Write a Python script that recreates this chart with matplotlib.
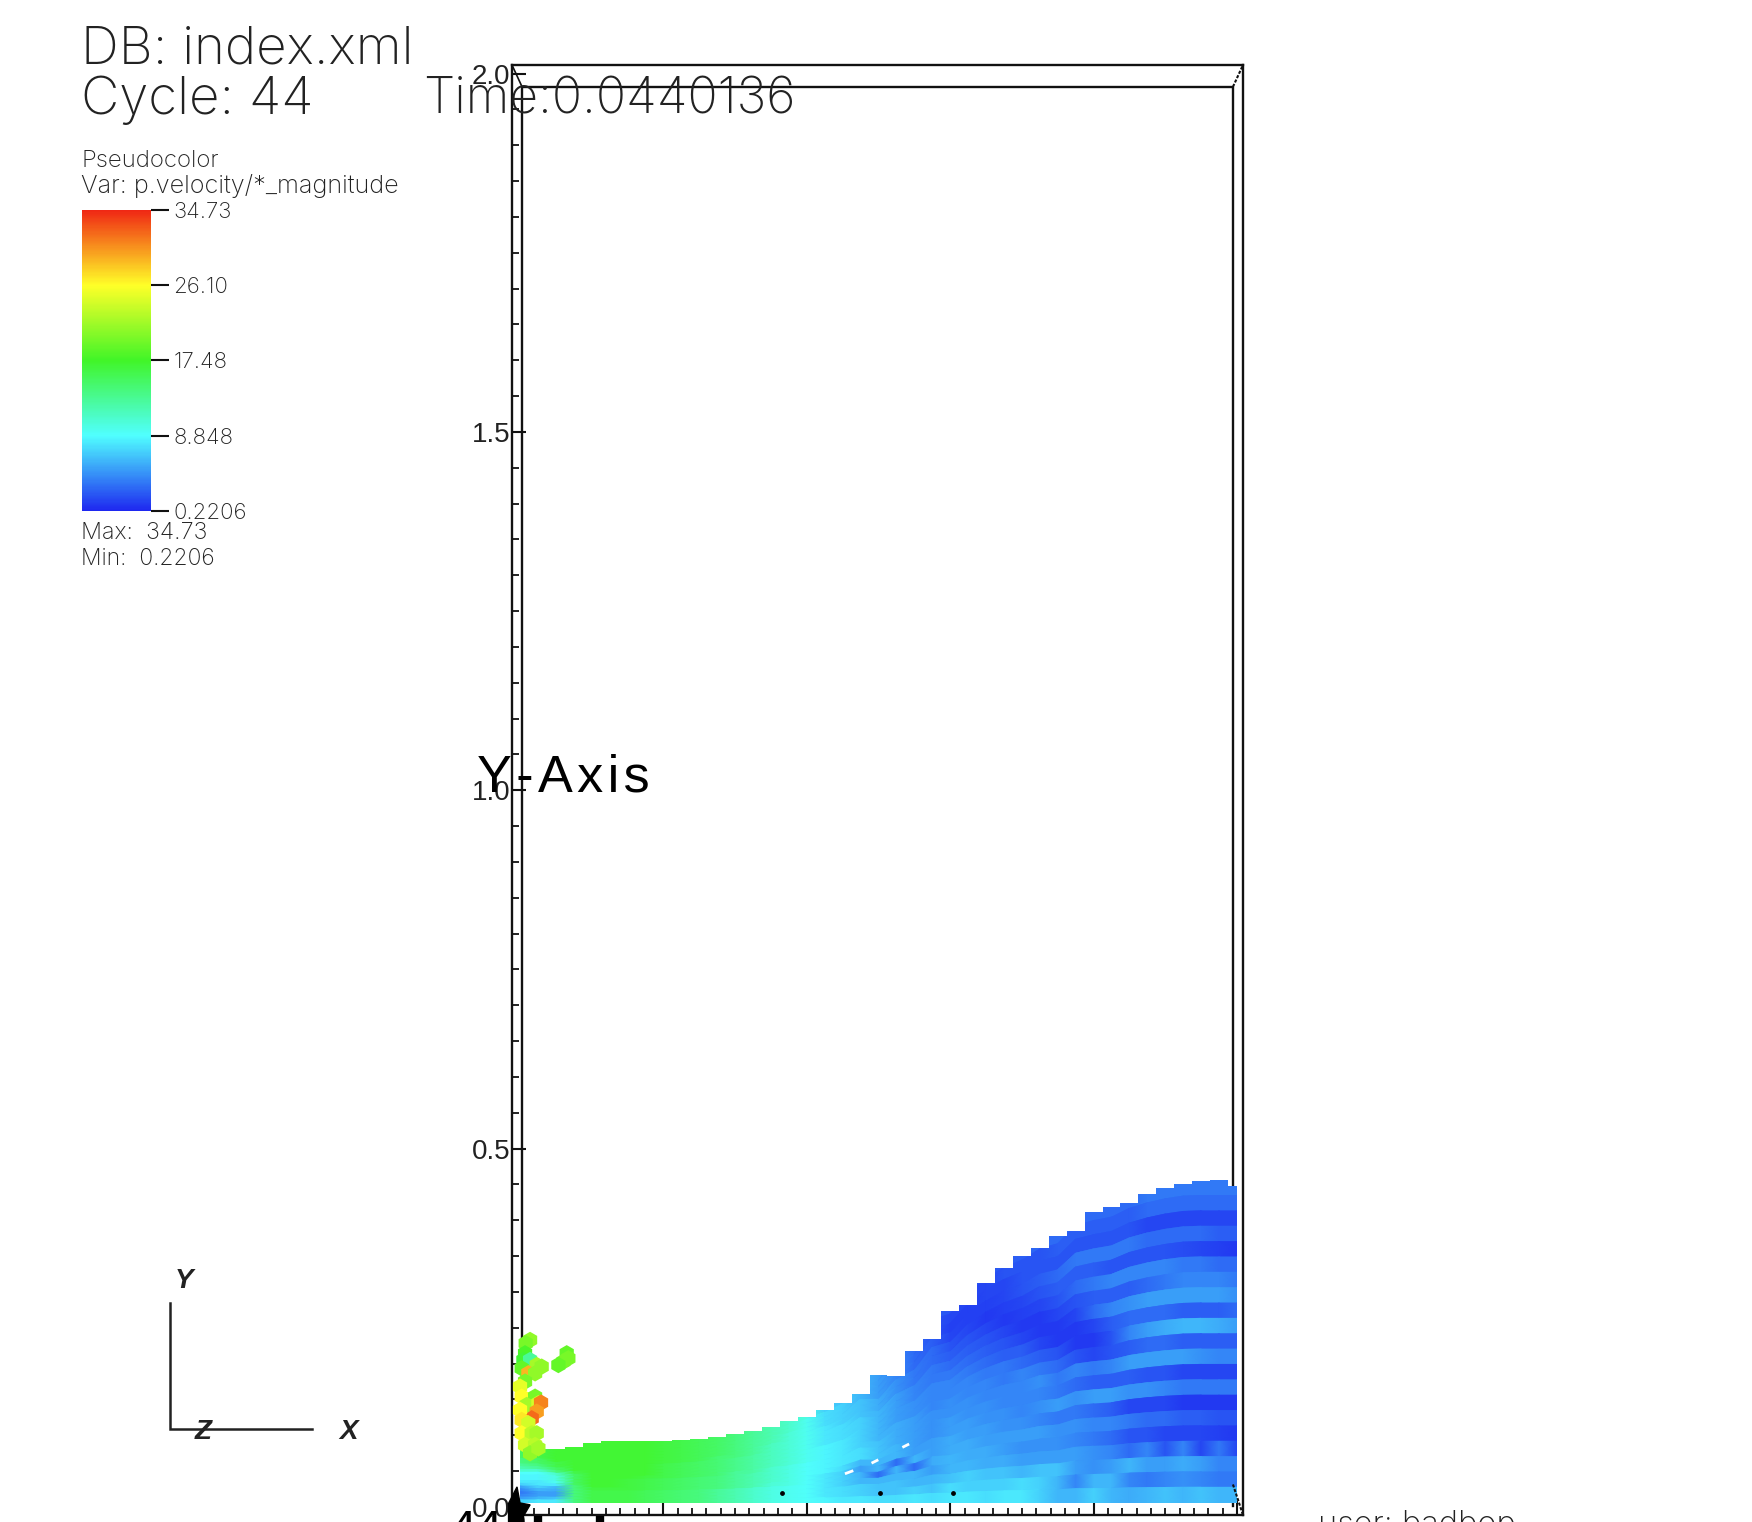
import numpy as np
import matplotlib
matplotlib.use("Agg")
import matplotlib.pyplot as plt
from matplotlib.colors import LinearSegmentedColormap, Normalize
from matplotlib.cm import ScalarMappable
from matplotlib.patches import Polygon
from matplotlib.ticker import FixedLocator

W, H = 1752, 1522
TXT = ['Inter', 'DejaVu Sans']
SANS = ['Liberation Sans', 'DejaVu Sans']

# ---- values ----
vmin, vmax = 0.2206, 34.73
bar_ticks = [0.2206, 8.848, 17.48, 26.10, 34.73]
bar_labels = ['0.2206', '8.848', '17.48', '26.10', '34.73']
y_major = [0.0, 0.5, 1.0, 1.5, 2.0]
y_labels = ['0.0', '0.5', '1.0', '1.5', '2.0']

surface = [.087, .081, .081, .084, .089, .092, .092, .092, .092, .093, .095, .098, .102, .106,
           .112, .120, .126, .135, .145, .158, .184, .183, .218, .234, .274, .282, .313, .334,
           .350, .361, .378, .385, .412, .419, .424, .437, .445, .451, .455, .456, .448]

field_left = [
 [15,16,17,17,17,17,17,17,16.5,16,15.5,15,14,13,12,11,10],
 [15,16,17,17,17,17,17,17,16.5,16,15.5,15,14,13,12,11,10],
 [15,16,17,17,17,17,17,17,16.5,16,15.5,15,14,13,12,11,9.5],
 [15,16,17,17,17,17,17,17,16.5,16,15.5,15,14,13,12,11,9.5],
 [15,16,17,17,17,17,17,17,16.5,16,15.5,15,14,13,12,10.5,9.5],
 [14,15,17,17,17,17,17,17,16.5,16,15.5,15,14,13,12,10.5,9.5],
 [14,15,16,17,17,17,17,17,16.5,16,15.5,15,14,13,11.5,10.5,9.5],
 [13,14,16,17,17,17,17,17,16.5,16,15.5,14.5,14,13,11.5,10.5,9.5],
 [12,13,15,17,17,17,17,17,16,15.5,15,14.5,13.5,12.5,11.5,10.5,9.5],
 [11,11,14,17,17,17,17,17,16,15.5,15,14.5,13.5,12.5,11.5,10.5,9.5],
 [9,9,11,16,17,17,17,17,16,15.5,15,14.5,13.5,12.5,11.5,10.5,9.5],
 [8.5,8.5,10,15,17,17,17,17,16,15.5,15,14.5,13.5,12.5,11.5,10.5,9.5],
 [8.5,8.5,10,15,17,17,17,16.5,16,15.5,15,14.5,13,12.5,11,10,9],
 [8,8,9.5,15,17,17,16.5,16,15.5,15,14.5,14,13,12,11,10,9],
 [7,8,8,15,17,17,16.5,16,15.5,15,14.5,14,13,12,11,10,9],
 [5,7,6,14,17,17,16.5,16,15.5,15,14.5,14,13,12,11,10,9],
 [4,6,5.5,14,16.5,16.5,16.5,16,15.5,15,14.5,14,13,12,10.5,10,9],
 [3.5,5,5,14,16,16,16,15.5,15,14.5,14,13,12,11,10,9.5,9],
 [4,5,5,14,16,16,16,15.5,15,14.5,14,13,12,11,10,9.5,9],
 [5,6,6.5,14,16,16,16,15.5,15,14.5,14,13,12,11,10,9.5,9],
 [7,8,8,14,16,16,16,15.5,15,14.5,14,13,12,11,10,9.5,9],
]
field_mid = [
 [7,6.5,6,5,3.5,3,2.5],
 [7,6.5,6,5,4,3,2],
 [7.5,7,6,5,4,3,2],
 [7.5,7,6,5,4,3,2.5],
 [7.5,7,6.5,5.5,4.5,3.5,3],
 [8,7,6.5,5.5,4.5,3.5,3],
 [8,7.5,6.5,6,5,4,3.5],
 [8,7.5,7,6,5,4,3.5],
 [8,7.5,7,6,5,4.5,4],
 [8.5,8,7,6,5,4.5,4],
 [8.5,8,7,6,5.5,5,4],
 [8.5,8,7,6.5,5.5,5,4.5],
 [8.5,8,7.5,6.5,5.5,5,4.5],
 [8.5,8,7.5,6.5,6,5,4.5],
 [8.5,7.5,6,6,6,5,5],
 [8,7,5,6,3,6,5],
 [8,7,6,3,6,3,5.5],
 [8,7,6,6,6,6,5],
 [8,7.5,7,6.5,6.5,6,6],
 [8,7.5,7,6.5,6.5,7,6.5],
 [8.5,8,8,7.5,7.5,8,7.5],
]
field_right = [
 [2,2,2,2.5,2.5,3,3,3,3,3,3,3.5,3.5,3.5,3.5,3.5,3.5],
 [1.5,1.5,1.5,2,2,2,2.5,2.5,2.5,2.5,2.5,3,3,3,3,3,3],
 [1.2,1.2,1.5,1.5,2,2,2,2,2,2,2,1.5,1.5,1.5,1.5,1.5,1.5],
 [1.5,1.2,1.2,1.5,2,2.5,3,3.5,3.5,3.5,3.5,3,3,3,3,2.5,2.5],
 [2,1.5,1,1.2,1.5,2,2.5,2.5,2.5,2,2,2,2,1.8,1.5,1.2,1],
 [2.5,2,1.5,1,1.2,1.5,2,3,3.5,4,4,4,4,3.5,3.5,3,3],
 [3,2.5,2,1.5,1,1,1.5,2,2.5,2.5,2.5,3,3.5,4,4,4,3.5],
 [3.5,3,2.5,2,1.5,1,1,1.5,3,4,4.5,5,5,5,5,5,4.5],
 [4,3.5,3,2.5,2.5,1.5,1,1,1.5,2.5,3,3,3,2.5,2.5,2.5,3],
 [4,4,3.5,3.5,3,2.5,2,1,1,2,4,5,5.5,6,6,5.5,5],
 [4.5,4,4,3.5,4,3.5,3,2,1.5,2,2.5,3,3,2.5,2.5,2.5,2.5],
 [4.5,4.5,4,4,4,4.5,3.5,4,3.5,4,5,5,5,5,4.5,4,4],
 [5,4.5,4.5,4,4,4,3.5,3,2.5,2.5,2.5,2,2,1.5,1.5,1.5,1.5],
 [5,5,4.5,4.5,4,4.5,5,4.5,5,5,4.5,4.5,4,3.5,3.5,3.5,3.5],
 [5.5,5,5,4.5,4.5,4,3.5,3.5,3,2.5,1.5,1.5,1.5,1,1,1,1],
 [5.5,5.5,5,5,5,5,4.5,4.5,4,4,3.5,3,3,2.5,2.5,2,2],
 [6,5.5,5.5,5,4.5,4.5,4.5,4,3.5,3,2,2,1.5,1.5,1.5,1.2,1],
 [6,6,5.5,5.5,5,5,5,5,4.5,4,3,4,2,4,1.5,3.5,1.5],
 [6.5,7,6.5,6.5,6,6.5,6.5,5,4.5,5,6,5,5,5.5,5,4,4],
 [7.5,7,7,7,7.5,7,6,4,6,6,4,3.5,4,4.5,4,3.5,3.5],
 [8,8,7.5,8,8,7,6,6,7,6,5.5,6,6.5,6,6.5,6,6],
]
splash_x = [.014,.0079,.007,.0047,.014,.0233,.0302,.0023,.0116,.021,.007,0,.0023,.021,.0093,
            .0256,.0293,.0233,.0163,0,.0023,.0116,.0023,.0163,.0233,.007,.021,.014,.0256,
            .0651,.0674,.0605,.0535]
splash_y = [.233,.2284,.2144,.205,.205,.1981,.1958,.1935,.1865,.1865,.1749,.1679,.1539,.1539,.1423,
            .1447,.1456,.133,.1237,.1354,.1214,.1167,.1028,.1028,.1028,.0865,.0865,.0749,.0819,
            .2144,.2074,.2028,.1981]
splash_v = [21,20,18,17,13,22,21,19,29,21,20,25,26,20,22,
            24,31,30,32,26,27,24,26,23,22,24,23,21,22,
            19,20,20,19]
gap_x = [[.455,.463],[.492,.498],[.535,.541]]
gap_y = [[.047,.050],[.062,.065],[.084,.087]]
dot_x = [.365,.502,.604]
dot_y = [.02,.02,.02]
stub_x = [.025, .112]

# ---- drawing ----
def fig_rect(l, t, r, b):
    return [l / W, 1 - b / H, (r - l) / W, (b - t) / H]

fig = plt.figure(figsize=(W / 100, H / 100), dpi=100, facecolor='white')
bg = fig.add_axes([0, 0, 1, 1])
bg.set_xlim(0, W); bg.set_ylim(H, 0); bg.axis('off')

cmap = LinearSegmentedColormap.from_list('visit_hot', [
    (0.0, (30/255, 40/255, 240/255)), (0.25, (80/255, 255/255, 255/255)),
    (0.5, (65/255, 245/255, 40/255)), (0.75, (255/255, 255/255, 40/255)),
    (1.0, (240/255, 40/255, 20/255))])
norm = Normalize(vmin, vmax)

ax = fig.add_axes(fig_rect(512, 65, 1243, 1515))
ax.set_xlim(-0.0112, 1.0084)
ax.set_ylim(-0.0112, 2.012)
ax.set_facecolor('none')

# each depth row is kept as a crisp band: every row spans two mesh lines
values = np.hstack([np.array(field_left, float), np.array(field_mid, float), np.array(field_right, float)])
nrow, ncol = values.shape
xnodes = np.linspace(0, 1, ncol)
edges = np.linspace(1, 0, nrow + 1)
sigma = np.column_stack([edges[:-1], edges[1:]]).ravel()
band_values = np.repeat(values, 2, axis=0)
floor = 0.006
top = np.array(surface)
envelope = np.maximum.reduce([top, np.r_[top[0], top[:-1]], np.r_[top[1:], top[-1]]])
Y = floor + np.outer(sigma, envelope - floor)
X = np.tile(xnodes, (sigma.size, 1))
mesh = ax.pcolormesh(X, Y, band_values, cmap=cmap, norm=norm, shading='gouraud', zorder=3)

# stair-stepped free surface, as the particle cells give it
dx = xnodes[1] - xnodes[0]
stair = [(0, floor)]
for xv, h in zip(xnodes, top):
    stair += [(max(xv - dx / 2, 0), h), (min(xv + dx / 2, 1), h)]
stair.append((1, floor))
clip = Polygon(stair, closed=True, transform=ax.transData, facecolor='none', edgecolor='none')
ax.add_patch(clip)
mesh.set_clip_path(clip)

ax.scatter(splash_x, splash_y, c=splash_v, cmap=cmap, norm=norm, s=140, marker='h',
           linewidths=0, zorder=4)
for gx, gy in zip(gap_x, gap_y):
    ax.plot(gx, gy, color='white', lw=2.0, zorder=5)
ax.scatter(dot_x, dot_y, s=6, color='black', zorder=6)

# rear face of the bounding box
bx0, bx1, by0, by1 = 0.0028, 0.9944, 0.0014, 1.9816
ax.plot([bx0, bx0, bx1, bx1], [by0, by1, by1, by0], color='#111111', lw=1.7, zorder=2)
ax.plot([bx1, 1.0084], [by1, 2.012], color='#111111', lw=1.5, ls=(0, (1.5, 0.8)), zorder=2)
ax.plot([bx1, 1.0084], [by0 + 0.03, -0.0112], color='#111111', lw=1.5, ls=(0, (1.5, 0.8)), zorder=6)
ax.plot([bx0, -0.0112], [by1, 2.012], color='#111111', lw=1.2, zorder=2)
ax.add_patch(Polygon([(-.016, -.021), (-.016, .005), (-.0042, .028), (.0, .0056), (.014, .003), (.0, -.021)],
                     closed=True, color='black', clip_on=False, zorder=7))
for sx in stub_x:
    ax.plot([sx, sx], [-0.0125, -0.03], color='black', lw=6, clip_on=False, solid_capstyle='butt', zorder=7)

for s in ax.spines.values():
    s.set_linewidth(1.7); s.set_color('#111111')
ax.set_xticks([0, .2, .4, .6, .8, 1.0])
ax.set_xticklabels([])
ax.xaxis.set_minor_locator(FixedLocator([i / 50 for i in range(51)]))
ax.set_yticks(y_major)
ax.set_yticklabels(y_labels, family=SANS, fontsize=20, color='#222222')
ax.yaxis.set_minor_locator(FixedLocator([i / 20 for i in range(41)]))
ax.tick_params(axis='both', which='major', direction='in', length=10, width=1.5, color='#111111', pad=1)
ax.tick_params(axis='both', which='minor', direction='in', length=5, width=1.3, color='#111111')
for lab in ax.get_yticklabels():
    lab.set_zorder(9)

# colour bar
cax = fig.add_axes(fig_rect(82, 210, 151, 511))
cb = fig.colorbar(ScalarMappable(norm=norm, cmap=cmap), cax=cax, ticks=bar_ticks)
cb.set_ticklabels(bar_labels, family=TXT, fontweight='light', fontsize=16, color='#222222')
cb.outline.set_visible(False)
cb.ax.tick_params(length=13, width=1.5, pad=3, color='#111111')
cb.ax.minorticks_off()

def label(x, y, s, size, family=TXT, weight='light', **kw):
    bg.text(x, y, s, fontsize=size, family=family, fontweight=weight, color='#222222',
            va='baseline', ha=kw.pop('ha', 'left'), zorder=20, **kw)

label(81, 63, 'DB: index.xml', 38)
label(81, 114, 'Cycle: 44', 38)
fig.text(423 / W, 1 - 114 / H, 'Time:0.0440136', fontsize=36, family=TXT, fontweight='light',
         color='#222222', va='baseline', zorder=20)
label(82, 167, 'Pseudocolor', 17.3)
label(81, 193, 'Var: p.velocity/*_magnitude', 18.2)
label(81, 539, 'Max:  34.73', 16.8)
label(81, 565, 'Min:  0.2206', 16.5)
label(1318, 1534, 'user: badbop', 23.5)

fig.text(477 / W, 1 - 792 / H, 'Y\u200a-\u200aA\u200ax\u200ai\u200as', fontsize=37.5, family=SANS,
         color='black', va='baseline', zorder=20)
fig.text(456 / W, 1 - 1533 / H, '4.4.0', fontsize=23, family=SANS, fontweight='bold',
         color='black', va='baseline', zorder=20)

# orientation triad
bg.plot([170, 170, 312], [1303, 1429, 1429], color='#222222', lw=1.8, solid_joinstyle='miter')
for s, x, y in [('Y', 184, 1281), ('Z', 203, 1432), ('X', 349, 1432)]:
    bg.text(x, y, s, fontsize=20, family=SANS, style='italic', fontweight='bold', color='#222222',
            ha='center', va='center', zorder=20)

fig.savefig('out.png', dpi=100, facecolor='white')
